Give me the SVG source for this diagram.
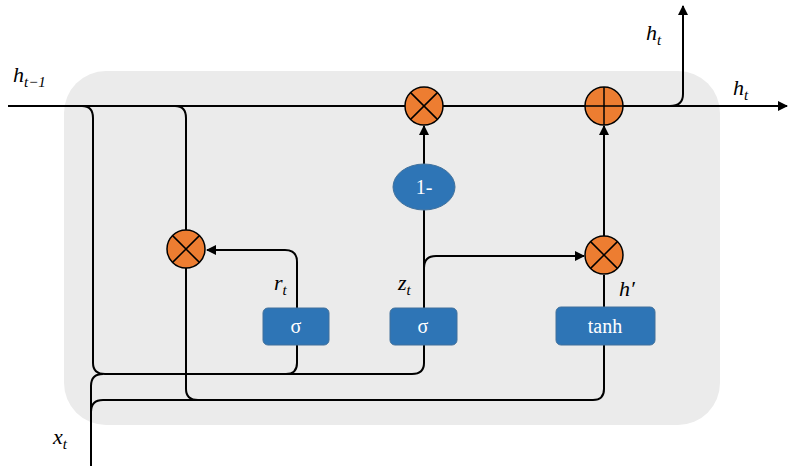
<svg xmlns="http://www.w3.org/2000/svg" width="790" height="472" viewBox="0 0 790 472">
<style>
.w{fill:none;stroke:#000;stroke-width:2}
.op{fill:#ED7D31;stroke:#000;stroke-width:1.5}
.x{stroke:#000;stroke-width:1.5}
.box{fill:#2E75B6;stroke:#41719C;stroke-width:1}
.bt{fill:#fff;font-family:"Liberation Serif",serif;font-size:20px;text-anchor:middle}
.m{font-family:"Liberation Serif",serif;font-style:italic;font-size:22px;fill:#000}
.s{font-size:15px}
</style>
<defs>
<marker id="a" viewBox="0 0 10 10" refX="9" refY="5" markerWidth="5" markerHeight="5" orient="auto"><path d="M0,0L10,5L0,10z" fill="#000"/></marker>
</defs>
<rect x="64" y="71" width="656" height="354" rx="42" fill="#EBEBEB"/>
<g id="connectors">
<path class="w" d="M8,106H787" marker-end="url(#a)"/>
<path class="w" d="M670,106Q683,106 683,94V6" marker-end="url(#a)"/>
<path class="w" d="M82,106Q93,106 93,118V363Q93,374 105,374H286Q297,374 297,363V344"/>
<path class="w" d="M286,374H412Q424,374 424,363V344"/>
<path class="w" d="M91,466V386Q91,374 103,374"/>
<path class="w" d="M91,412Q91,400 103,400H593Q604,400 604,389V344"/>
<path class="w" d="M175,106Q186,106 186,118V230"/>
<path class="w" d="M186,268V389Q186,400 198,400"/>
<path class="w" d="M297,308V262Q297,250 285,250H207" marker-end="url(#a)"/>
<path class="w" d="M424,308V210"/>
<path class="w" d="M424,164V126" marker-end="url(#a)"/>
<path class="w" d="M424,268Q424,256 436,256H584" marker-end="url(#a)"/>
<path class="w" d="M604,307V275"/>
<path class="w" d="M604,236V126" marker-end="url(#a)"/>
</g>
<g id="mul1"><circle class="op" cx="424" cy="106" r="19"/><path class="x" d="M410.6,92.6L437.4,119.4M437.4,92.6L410.6,119.4"/></g>
<g id="add"><circle class="op" cx="604" cy="106" r="19"/><path class="x" d="M585,106H623M604,87V125"/></g>
<g id="mul2"><circle class="op" cx="604" cy="255" r="19"/><path class="x" d="M590.6,241.6L617.4,268.4M617.4,241.6L590.6,268.4"/></g>
<g id="mulr"><circle class="op" cx="186" cy="249" r="19"/><path class="x" d="M172.6,235.6L199.4,262.4M199.4,235.6L172.6,262.4"/></g>
<g id="oneminus"><ellipse class="box" cx="424" cy="187" rx="31" ry="23"/><text class="bt" x="424" y="194">1-</text></g>
<g id="sigr"><rect class="box" x="263" y="308" width="66" height="37" rx="5"/><text class="bt" x="296" y="333">σ</text></g>
<g id="sigz"><rect class="box" x="390" y="308" width="67" height="37" rx="5"/><text class="bt" x="423" y="333">σ</text></g>
<g id="tanh"><rect class="box" x="556" y="307" width="99" height="38" rx="5"/><text class="bt" x="605" y="333">tanh</text></g>
<g id="labels">
<text class="m" x="13" y="82">h<tspan class="s" dy="5">t−1</tspan></text>
<text class="m" x="646" y="40">h<tspan class="s" dy="5">t</tspan></text>
<text class="m" x="733" y="95">h<tspan class="s" dy="5">t</tspan></text>
<text class="m" x="274" y="290">r<tspan class="s" dy="5">t</tspan></text>
<text class="m" x="398" y="290">z<tspan class="s" dy="5">t</tspan></text>
<text class="m" x="619" y="296">h′</text>
<text class="m" x="53" y="444">x<tspan class="s" dy="5">t</tspan></text>
</g>
</svg>
